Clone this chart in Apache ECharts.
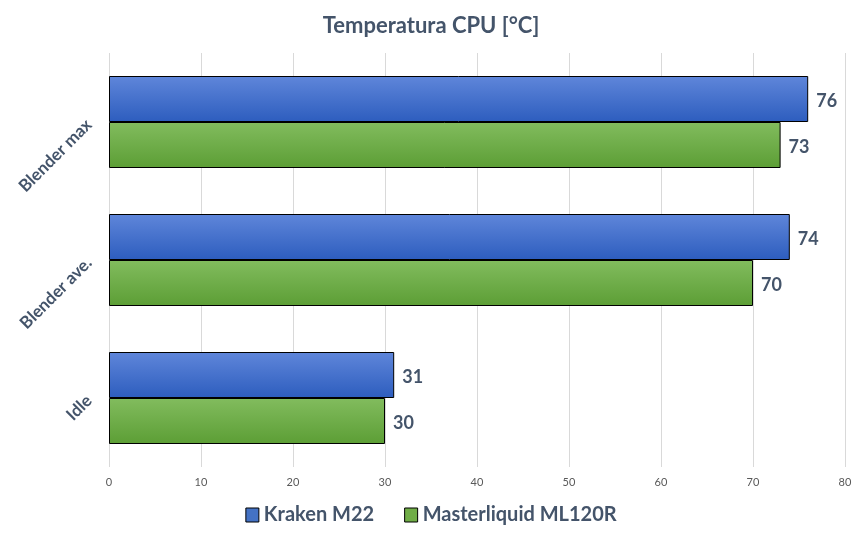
<!DOCTYPE html>
<html><head><meta charset="utf-8">
<script src="https://cdn.jsdelivr.net/npm/echarts@6/dist/echarts.min.js"></script>
<style>html,body{margin:0;padding:0;background:#fff}#c{width:862px;height:536px}</style>
</head><body><div id="c"></div>
<script>
const categories = ['Idle', 'Blender ave.', 'Blender max'];
const seriesNames = ['Kraken M22', 'Masterliquid ML120R'];
const krakenValues = [31, 74, 76];
const masterValues = [30, 70, 73];
const xTicks = [0, 10, 20, 30, 40, 50, 60, 70, 80];

const txt = '#44546A';
const font = 'Lato, "Open Sans", sans-serif';
const blueGrad = new echarts.graphic.LinearGradient(0,0,0,1,[{offset:0,color:'#5F86DA'},{offset:1,color:'#2D5DBE'}]);
const greenGrad = new echarts.graphic.LinearGradient(0,0,0,1,[{offset:0,color:'#82BC5E'},{offset:1,color:'#5C9E35'}]);
const lbl = {show:true, position:'right', distance:8, offset:[0,2], color:txt, fontSize:18, fontWeight:'bold', fontFamily:font};

const chart = echarts.init(document.getElementById('c'), null, {renderer:'canvas'});
chart.setOption({
  animation:false,
  textStyle:{fontFamily:font},
  title:{text:'Temperatura CPU [°C]', left:'center', top:10,
    textStyle:{fontFamily:font, fontSize:22, fontWeight:'bold', color:txt}},
  legend:{bottom:6, left:'center', icon:'rect', itemWidth:13, itemHeight:14, itemGap:30,
    data:[{name:seriesNames[0], itemStyle:{color:'#4472C4', borderColor:'#000', borderWidth:1}},
          {name:seriesNames[1], itemStyle:{color:'#70AD47', borderColor:'#000', borderWidth:1}}],
    textStyle:{fontFamily:font, fontSize:20, fontWeight:'bold', color:txt}},
  grid:{left:109, right:17, top:53, bottom:69},
  xAxis:{type:'value', min:xTicks[0], max:xTicks[xTicks.length-1], interval:10,
    axisLine:{show:false}, axisTick:{show:false},
    splitLine:{lineStyle:{color:'#D9D9D9'}},
    axisLabel:{color:'#595959', fontSize:11, margin:10, fontFamily:font}},
  yAxis:{type:'category', data:categories,
    axisLine:{show:false}, axisTick:{show:false},
    axisLabel:{rotate:45, color:txt, fontSize:17, fontWeight:'bold', margin:20, fontFamily:font}},
  series:[
    {name:seriesNames[0], type:'bar', data:krakenValues, barWidth:46, barGap:'0%',
      itemStyle:{color:blueGrad, borderColor:'#000', borderWidth:1}, label:lbl},
    {name:seriesNames[1], type:'bar', data:masterValues, barWidth:46, barGap:'0%',
      itemStyle:{color:greenGrad, borderColor:'#000', borderWidth:1}, label:lbl}
  ]
});
</script></body></html>
